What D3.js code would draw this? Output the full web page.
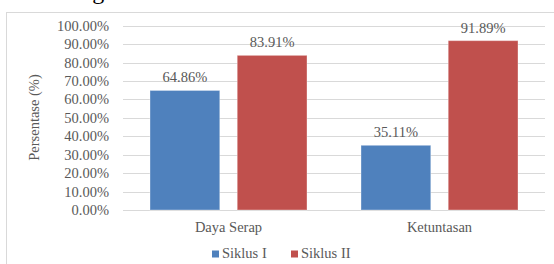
<!DOCTYPE html>
<html>
<head>
<meta charset="utf-8">
<script src="https://cdn.jsdelivr.net/npm/d3@7/dist/d3.min.js"></script>
<style>
  body { margin: 0; background: #fff; }
</style>
</head>
<body>
<div id="chart"></div>
<script>
const WIDTH = 554;
const HEIGHT = 264;

// datos
const categories = ["Daya Serap", "Ketuntasan"];
const seriesNames = ["Siklus I", "Siklus II"];
const siklus1 = [64.86, 35.11];
const siklus2 = [83.91, 91.89];
const yTicks = [0, 10, 20, 30, 40, 50, 60, 70, 80, 90, 100];
const colors = ["#4f81bd", "#c0504d"];

const FONT = "'Liberation Serif', 'Times New Roman', serif";
const GRIS = "#595959";

const svg = d3.select("#chart")
  .append("svg")
  .attr("width", WIDTH)
  .attr("height", HEIGHT)
  .attr("font-family", FONT);

// texto cortado de la pagina
svg.append("text")
  .attr("x", -1)
  .attr("y", -1)
  .attr("font-family", FONT)
  .attr("font-size", 24)
  .attr("fill", "#000")
  .text("seen in Figure 3");

// marco
svg.append("rect")
  .attr("x", 6.5)
  .attr("y", 12.5)
  .attr("width", 560)
  .attr("height", 270)
  .attr("fill", "none")
  .attr("stroke", "#d9d9d9");

const y = d3.scaleLinear().domain([0, 100]).range([210, 25.7]);

const x0 = d3.scaleBand()
  .domain(categories)
  .range([123, 545]);

const x1 = d3.scaleBand()
  .domain(seriesNames)
  .range([27, x0.bandwidth() - 27])
  .paddingInner(0.2);

// grilla
svg.append("g")
  .selectAll("line")
  .data(yTicks)
  .join("line")
  .attr("x1", 123)
  .attr("x2", 545)
  .attr("y1", d => Math.round(y(d)) + 0.5)
  .attr("y2", d => Math.round(y(d)) + 0.5)
  .attr("stroke", "#d9d9d9");

// etiquetas eje y
svg.append("g")
  .selectAll("text")
  .data(yTicks)
  .join("text")
  .attr("x", 109)
  .attr("y", d => y(d))
  .attr("dy", "0.35em")
  .attr("text-anchor", "end")
  .attr("font-size", 14.5)
  .attr("fill", GRIS)
  .text(d => d.toFixed(2) + "%");

svg.append("text")
  .attr("transform", "translate(39,117.5) rotate(-90)")
  .attr("text-anchor", "middle")
  .attr("font-size", 14.5)
  .attr("fill", GRIS)
  .text("Persentase (%)");

const rows = categories.map((c, i) => ({
  cat: c,
  vals: [siklus1[i], siklus2[i]]
}));

const grupos = svg.selectAll("g.cat")
  .data(rows)
  .join(enter => {
    const g = enter.append("g").attr("class", "cat");

    g.selectAll("rect")
      .data(d => d.vals.map((v, j) => ({ s: seriesNames[j], v: v, j: j })))
      .join("rect")
      .attr("x", d => x1(d.s))
      .attr("y", d => y(d.v))
      .attr("width", x1.bandwidth())
      .attr("height", d => y(0) - y(d.v))
      .attr("fill", d => colors[d.j])
      .attr("stroke", "#ffffff")
      .attr("stroke-opacity", 0.35)
      .attr("stroke-width", 1);

    g.selectAll("text.val")
      .data(d => d.vals.map((v, j) => ({ s: seriesNames[j], v: v })))
      .join("text")
      .attr("class", "val")
      .attr("x", d => x1(d.s) + x1.bandwidth() / 2)
      .attr("y", d => y(d.v) - 8)
      .attr("text-anchor", "middle")
      .attr("font-size", 14.5)
      .attr("fill", GRIS)
      .text(d => d.v.toFixed(2) + "%");

    g.append("text")
      .attr("x", x0.bandwidth() / 2)
      .attr("y", 232)
      .attr("text-anchor", "middle")
      .attr("font-size", 14.5)
      .attr("fill", GRIS)
      .text(d => d.cat);

    return g.attr("transform", d => `translate(${x0(d.cat)},0)`);
  });

// leyenda
const legendX = [212, 291];
const leyenda = svg.append("g")
  .selectAll("g")
  .data(seriesNames)
  .join("g")
  .attr("transform", (d, i) => `translate(${legendX[i]},0)`);

leyenda.append("rect")
  .attr("x", 0)
  .attr("y", 250.5)
  .attr("width", 7)
  .attr("height", 7)
  .attr("fill", (d, i) => colors[i]);

leyenda.append("text")
  .attr("x", 10)
  .attr("y", 258)
  .attr("font-size", 14.5)
  .attr("fill", GRIS)
  .text(d => d);
</script>
</body>
</html>
